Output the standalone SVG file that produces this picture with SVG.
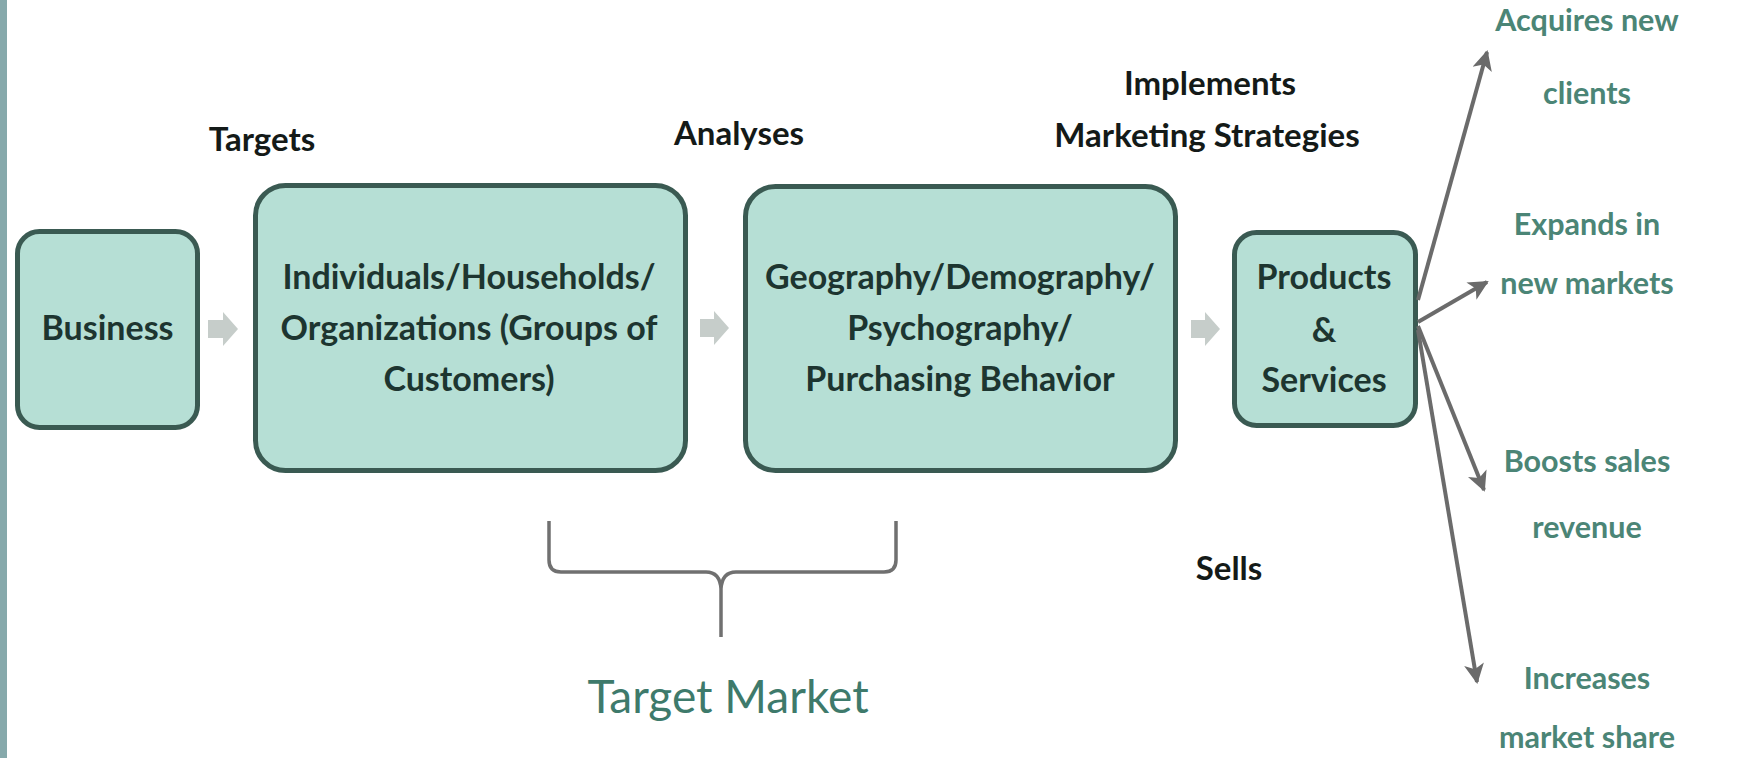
<svg xmlns="http://www.w3.org/2000/svg" width="1746" height="758" viewBox="0 0 1746 758">
  <style>
    .box { fill: #b6dfd5; stroke: #3a5a52; stroke-width: 5; }
    .boxtext { font-family: Lato, "Open Sans", "Liberation Sans", sans-serif; font-weight: bold; font-size: 34px; fill: #1d3530; text-anchor: middle; }
    .label { font-family: Lato, "Open Sans", "Liberation Sans", sans-serif; font-weight: bold; font-size: 33px; fill: #141a18; text-anchor: middle; }
    .outcome { font-family: Lato, "Open Sans", "Liberation Sans", sans-serif; font-weight: bold; font-size: 30.5px; fill: #4b8576; text-anchor: middle; }
    .title { font-family: Lato, "Open Sans", "Liberation Sans", sans-serif; font-size: 46px; fill: #3e7a6b; text-anchor: middle; }
    .step { fill: #c6cdca; }
    .link { stroke: #6b6b6b; stroke-width: 4; fill: none; }
    .brace { stroke: #707070; stroke-width: 3.5; fill: none; stroke-linejoin: round; }
  </style>
  <defs>
    <marker id="head" viewBox="0 0 10 10" refX="9" refY="5" markerWidth="5.5" markerHeight="5" orient="auto" markerUnits="strokeWidth">
      <path d="M0,0 L10,5 L0,10 L2.5,5 z" fill="#6b6b6b"/>
    </marker>
  </defs>

  <rect width="1746" height="758" fill="#ffffff"/>
  <!-- slide edge strip -->
  <rect x="0" y="0" width="7" height="758" fill="#86a9ab"/>

  <!-- labels above the flow -->
  <text class="label" x="262" y="151">Targets</text>
  <text class="label" x="739" y="145">Analyses</text>
  <text class="label" x="1210" y="95">Implements</text>
  <text class="label" x="1207" y="147">Marketing Strategies</text>
  <text class="label" x="1229" y="580">Sells</text>

  <g id="business">
    <rect class="box" x="17.5" y="231.5" width="180" height="196" rx="22"/>
    <text class="boxtext" x="107.5" y="340">Business</text>
  </g>

  <g id="customers">
    <rect class="box" x="255.5" y="185.5" width="430" height="285" rx="30"/>
    <text class="boxtext" x="469" y="289">Individuals/Households/</text>
    <text class="boxtext" x="469" y="340">Organizations (Groups of</text>
    <text class="boxtext" x="469" y="391">Customers)</text>
  </g>

  <g id="segments">
    <rect class="box" x="745.5" y="186.5" width="430" height="284" rx="30"/>
    <text class="boxtext" x="960" y="289">Geography/Demography/</text>
    <text class="boxtext" x="960" y="340">Psychography/</text>
    <text class="boxtext" x="960" y="391">Purchasing Behavior</text>
  </g>

  <g id="offer">
    <rect class="box" x="1234.5" y="232.5" width="181" height="193" rx="22"/>
    <text class="boxtext" x="1324" y="289">Products</text>
    <text class="boxtext" x="1324" y="342">&amp;</text>
    <text class="boxtext" x="1324" y="392">Services</text>
  </g>

  <g id="outcome-clients">
    <text class="outcome" x="1587" y="31">Acquires new</text>
    <text class="outcome" x="1587" y="104">clients</text>
  </g>
  <g id="outcome-markets">
    <text class="outcome" x="1587" y="235">Expands in</text>
    <text class="outcome" x="1587" y="294">new markets</text>
  </g>
  <g id="outcome-revenue">
    <text class="outcome" x="1587" y="472">Boosts sales</text>
    <text class="outcome" x="1587" y="538">revenue</text>
  </g>
  <g id="outcome-share">
    <text class="outcome" x="1587" y="689">Increases</text>
    <text class="outcome" x="1587" y="748">market share</text>
  </g>

  <g id="target-market">
    <path class="brace" d="M549 521 L549 560 Q549 572 561 572 L706 572 Q720 572 721 589 L721 637 M721 589 Q722 572 736 572 L884 572 Q896 572 896 560 L896 521"/>
    <text class="title" x="728" y="713">Target Market</text>
  </g>

  <g id="connectors">
    <!-- block arrows between the flow boxes -->
    <path class="step" d="M208 320 L223 320 L223 312 L238 329 L223 346 L223 338 L208 338 Z"/>
    <path class="step" d="M700 319 L714 319 L714 311 L729 328 L714 345 L714 337 L700 337 Z"/>
    <path class="step" d="M1191 320 L1205 320 L1205 312 L1220 329 L1205 346 L1205 338 L1191 338 Z"/>
    <!-- outcome arrows -->
    <line class="link" x1="1418" y1="300" x2="1487" y2="52" marker-end="url(#head)"/>
    <line class="link" x1="1418" y1="322" x2="1487" y2="282" marker-end="url(#head)"/>
    <line class="link" x1="1418" y1="326" x2="1484" y2="490" marker-end="url(#head)"/>
    <line class="link" x1="1418" y1="330" x2="1477" y2="682" marker-end="url(#head)"/>
  </g>
</svg>
